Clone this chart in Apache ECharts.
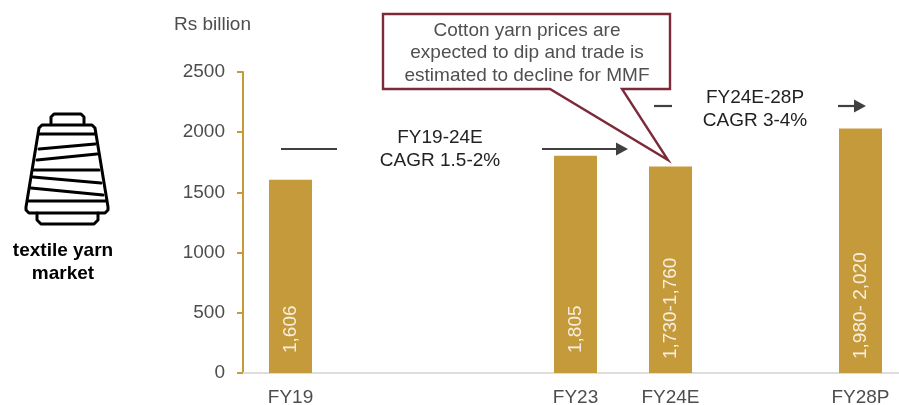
<!DOCTYPE html>
<html>
<head>
<meta charset="utf-8">
<style>
  html, body { margin: 0; padding: 0; background: #fff; }
  #chart { width: 899px; height: 405px; }
</style>
<script src="https://cdn.jsdelivr.net/npm/echarts@6/dist/echarts.min.js"></script>
</head>
<body>
<div id="chart"></div>
<script>
// empty slots keep the time spacing between the years
const categories = ['FY19', '', '', 'FY23', 'FY24E', '', 'FY28P']
const marketValues = [1606, null, null, 1805, 1715, null, 2030]
const barLabels = ['1,606', '', '', '1,805', '1,730-1,760', '', '1,980- 2,020']
const yTicks = { min: 0, max: 2500, interval: 500 }

const FONT = '"Liberation Sans", Arial, sans-serif'
const GOLD = '#C49A3B'
const ARROW = '#404040'
const MAROON = '#7C2A3A'

// annotation text helper
function note(x, y, lines, style) {
  return {
    type: 'text',
    x: x,
    y: y,
    style: Object.assign({
      text: lines.join('\n'),
      font: '19px ' + FONT,
      fill: '#222',
      align: 'center',
      verticalAlign: 'middle',
      lineHeight: 23
    }, style)
  }
}

function line(x1, x2, y) {
  return {
    type: 'line',
    shape: { x1: x1, y1: y, x2: x2, y2: y },
    style: { stroke: ARROW, lineWidth: 2.2 }
  }
}

function arrowHead(x, y) {
  return {
    type: 'polygon',
    shape: { points: [[x - 12, y - 6.5], [x, y], [x - 12, y + 6.5]] },
    style: { fill: ARROW }
  }
}

// yarn cone icon, one stroke per list
const coneStrokes = [
  [[51, 123], [51, 117], [54, 114], [81, 114], [84, 117], [84, 123]],
  [[42, 125], [92, 125], [95, 128], [108, 207], [108, 210], [105, 213], [29, 213], [26, 210], [26, 207], [39, 128], [42, 125]],
  [[39, 134], [95, 134]],
  [[39, 149], [95, 144]],
  [[37, 160], [97, 154]],
  [[34, 170], [99, 170]],
  [[33, 177], [101, 183]],
  [[31, 188], [103, 195]],
  [[28, 201], [106, 201]],
  [[37, 213], [37, 220], [41, 224], [94, 224], [98, 220], [98, 213]]
]

const chart = echarts.init(document.getElementById('chart'))
chart.setOption({
  animation: false,
  textStyle: { fontFamily: FONT },
  // seven 95px slots, the last one runs past the window edge
  grid: { left: 243, width: 665, top: 72, bottom: 32, outerBoundsMode: 'none' },
  xAxis: {
    type: 'category',
    data: categories,
    axisLine: { lineStyle: { color: '#DDDDDD', width: 2 } },
    axisTick: { show: false },
    axisLabel: { color: '#4D4D4D', fontSize: 19, margin: 15, interval: 0 }
  },
  yAxis: {
    type: 'value',
    min: yTicks.min,
    max: yTicks.max,
    interval: yTicks.interval,
    name: 'Rs billion',
    nameLocation: 'end',
    nameGap: 38,
    nameTextStyle: { color: '#4D4D4D', fontSize: 19, align: 'right', padding: [0, -8, 0, 0] },
    axisLine: { show: true, lineStyle: { color: GOLD, width: 2 } },
    axisTick: { show: true, length: 6, lineStyle: { color: GOLD, width: 2 } },
    axisLabel: { color: '#4D4D4D', fontSize: 19, margin: 18, formatter: v => String(v) },
    splitLine: { show: false }
  },
  series: [{
    type: 'bar',
    data: marketValues.map((v, i) => ({
      value: v,
      // the two short labels sit a little higher in the bar
      label: { distance: barLabels[i].length > 5 ? 14 : 20 }
    })),
    barWidth: 43,
    itemStyle: { color: GOLD },
    label: {
      show: true,
      position: 'insideBottom',
      rotate: 90,
      align: 'left',
      verticalAlign: 'middle',
      color: '#F7EEDC',
      fontSize: 19,
      formatter: p => barLabels[p.dataIndex]
    }
  }],
  graphic: [
    ...coneStrokes.map(points => ({
      type: 'polyline',
      shape: { points: points },
      style: { fill: 'none', stroke: '#000', lineWidth: 3, lineJoin: 'round', lineCap: 'round' }
    })),
    note(63, 262, ['textile yarn', 'market'], { font: 'bold 19px ' + FONT, fill: '#000' }),
    {
      type: 'polygon',
      shape: { points: [[383, 14], [670, 14], [670, 89], [622, 89], [668, 160], [550, 89], [383, 89]] },
      style: { fill: '#fff', stroke: MAROON, lineWidth: 2.4 }
    },
    note(527, 53, ['Cotton yarn prices are', 'expected to dip and trade is', 'estimated to decline for MMF'], { fill: '#505050', lineHeight: 22.5 }),
    line(281, 337, 149),
    line(542, 616, 149),
    arrowHead(628, 149),
    note(440, 149, ['FY19-24E', 'CAGR 1.5-2%']),
    line(654, 672, 106),
    line(838, 854, 106),
    arrowHead(866, 106),
    note(755, 109, ['FY24E-28P', 'CAGR 3-4%'])
  ]
})
</script>
</body>
</html>
